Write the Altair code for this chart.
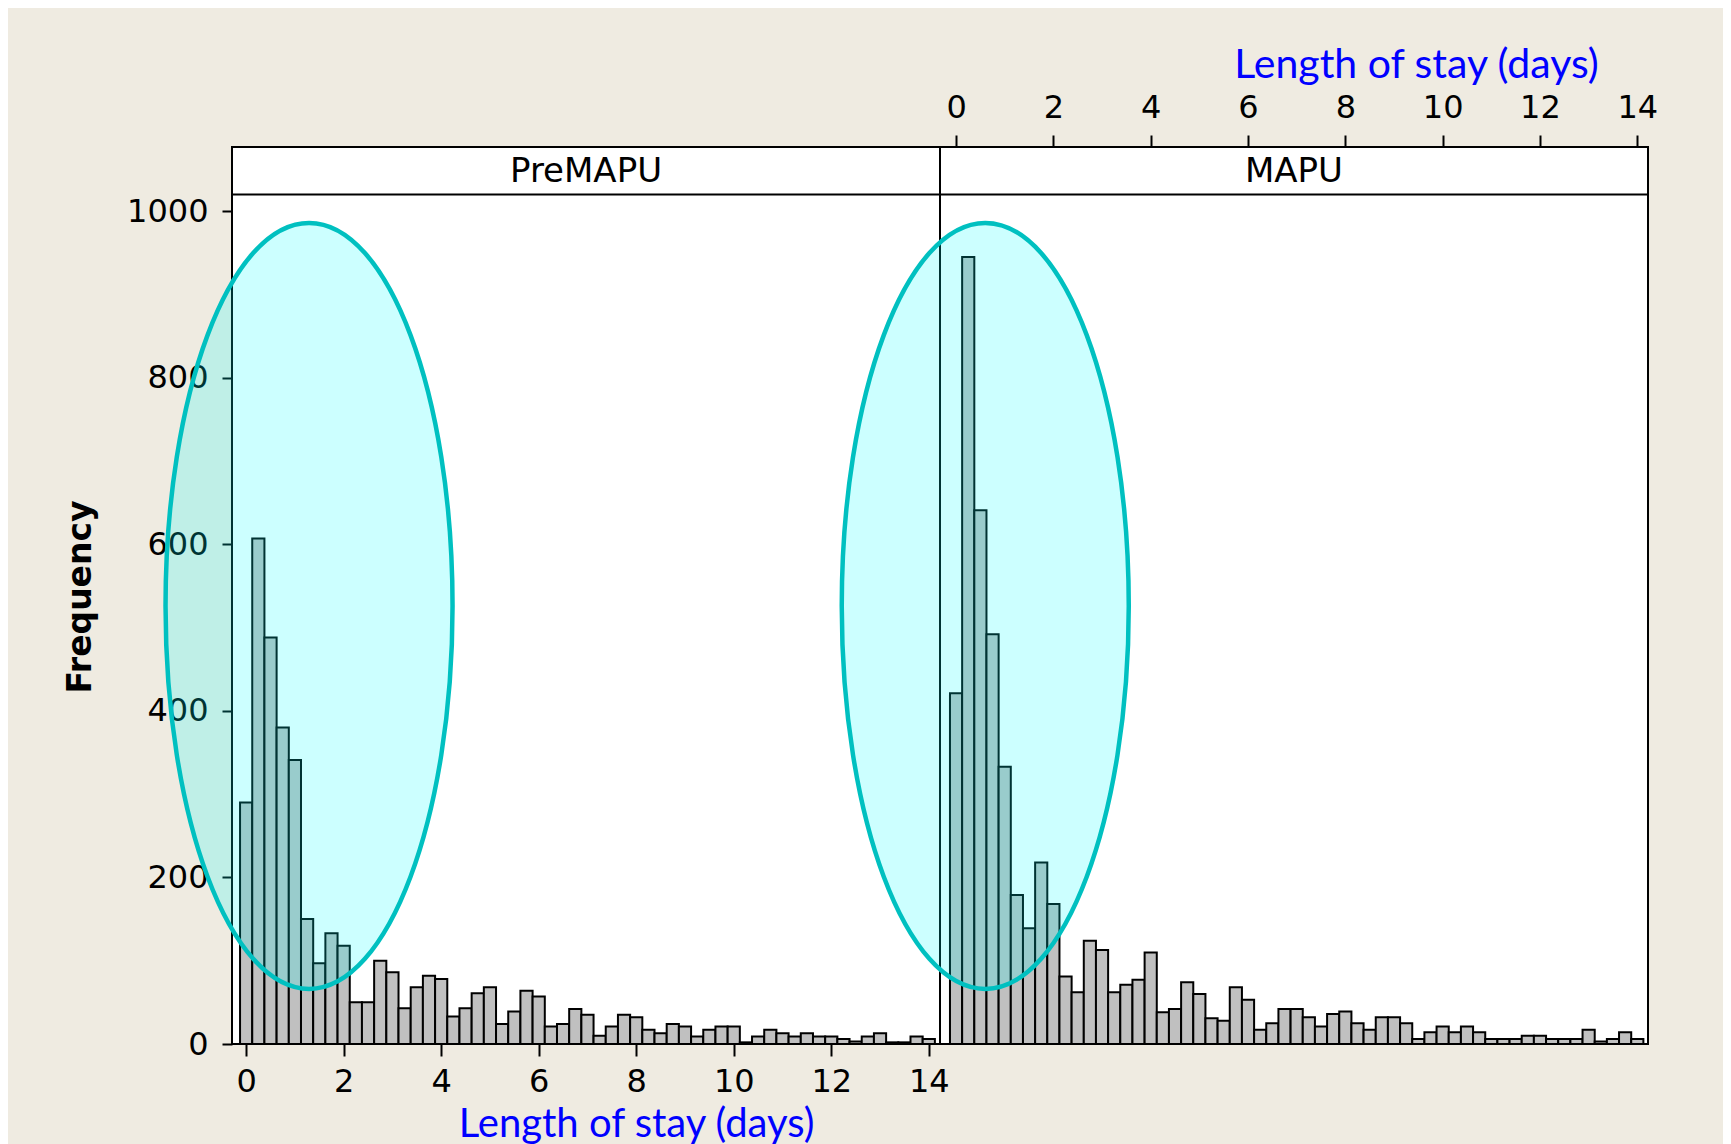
import altair as alt
import pandas as pd

# ---------------- data ----------------
bin_width = 0.25
bin_mid = [i * bin_width for i in range(57)]          # histogram bin midpoints (days)

premapu_counts = [290, 607, 488, 380, 341, 150, 97, 133, 118, 50,
                  50, 100, 86, 43, 68, 82, 78, 33, 43, 61,
                  68, 24, 39, 64, 57, 21, 24, 42, 35, 10,
                  21, 35, 32, 17, 13, 24, 21, 9, 17, 21,
                  21, 2, 9, 17, 13, 9, 13, 9, 9, 6,
                  3, 9, 13, 2, 2, 9, 6]

mapu_counts = [421, 945, 641, 492, 333, 179, 139, 218, 168, 81,
               62, 124, 113, 62, 71, 77, 110, 38, 42, 74,
               60, 31, 28, 68, 53, 17, 25, 42, 42, 32,
               21, 36, 39, 25, 17, 32, 32, 25, 6, 14,
               21, 14, 21, 14, 6, 6, 6, 10, 10, 6,
               6, 6, 17, 3, 6, 14, 6]

panel_names = ["PreMAPU", "MAPU"]
x_ticks = [0, 2, 4, 6, 8, 10, 12, 14]
y_ticks = [0, 200, 400, 600, 800, 1000]
x_title = "Length of stay (days)"
y_title = "Frequency"

# highlight ellipse centres (days, frequency)
pre_highlight = {"x": [1.29], "y": [526]}
mapu_highlight = {"x": [0.60], "y": [526]}

# ---------------- styling ----------------
W, H = 708, 897
STRIP_H = 47.5
Y_DOMAIN = [0, 1077]
BG = "#efebe1"
BLUE = "#0000ff"
ELL_RY = 383.0
ELL_RX = 143.5
rx_unit = ELL_RX / ELL_RY
ELLIPSE_PATH = (f"M {-rx_unit:.4f} 0 A {rx_unit:.4f} 1 0 1 1 {rx_unit:.4f} 0 "
                f"A {rx_unit:.4f} 1 0 1 1 {-rx_unit:.4f} 0 Z")
ELL_SIZE = (2 * ELL_RY) ** 2


def bars_frame(counts):
    return pd.DataFrame({
        "lo": [m - bin_width / 2 for m in bin_mid],
        "hi": [m + bin_width / 2 for m in bin_mid],
        "count": counts,
    })


def panel(name, counts, highlight, x_domain, x_axis, y_axis):
    xs = alt.Scale(domain=x_domain, nice=False, zero=False)
    ys = alt.Scale(domain=Y_DOMAIN, nice=False, zero=True)

    bars = alt.Chart(bars_frame(counts)).mark_rect(
        fill="#c0c0c0", stroke="black", strokeWidth=2
    ).encode(
        x=alt.X("lo:Q", scale=xs, axis=x_axis),
        x2="hi:Q",
        y=alt.Y("count:Q", scale=ys, axis=y_axis),
        y2=alt.datum(0),
    )

    strip = alt.Chart(pd.DataFrame({"label": [name]})).mark_rect(
        fill="white", stroke="black", strokeWidth=2
    ).encode(
        x=alt.value(0), x2=alt.value("width"),
        y=alt.value(0), y2=alt.value(STRIP_H),
    )

    strip_text = alt.Chart(pd.DataFrame({"label": [name]})).mark_text(
        font="DejaVu Sans", fontSize=34, color="black",
        align="center", baseline="middle"
    ).encode(
        x=alt.value(W / 2), y=alt.value(STRIP_H / 2 + 1), text="label:N"
    )

    ellipse = alt.Chart(pd.DataFrame(highlight)).mark_point(
        shape=ELLIPSE_PATH, size=ELL_SIZE, filled=True,
        fill="#00ffff", fillOpacity=0.2,
        stroke="#00c0c0", strokeWidth=4.5, strokeOpacity=1, opacity=1
    ).encode(
        x=alt.X("x:Q", scale=xs),
        y=alt.Y("y:Q", scale=ys),
    )

    return alt.layer(bars, strip, strip_text, ellipse).properties(width=W, height=H)


left_x_axis = alt.Axis(
    values=x_ticks, orient="bottom", title=x_title, domain=False, grid=False,
    tickSize=12, labelPadding=10,
    titleFont="Lato", titleFontSize=40, titleFontWeight="normal", titleColor=BLUE,
    titleX=404, titleY=80, titleAlign="center", titleBaseline="middle",
)
left_y_axis = alt.Axis(
    values=y_ticks, orient="left", title=y_title, domain=False, grid=False,
    tickSize=10, labelPadding=14, format="d",
    titleFont="DejaVu Sans", titleFontSize=33, titleFontWeight="bold", titleColor="black",
    titleX=-152, titleY=H / 2 + 1, titleAngle=270, titleAlign="center", titleBaseline="middle",
)
right_x_axis = alt.Axis(
    values=x_ticks, orient="top", title=x_title, domain=False, grid=False,
    tickSize=12, labelPadding=11,
    titleFont="Lato", titleFontSize=41, titleFontWeight="normal", titleColor=BLUE,
    titleX=476, titleY=-82, titleAlign="center", titleBaseline="middle",
)

left = panel(panel_names[0], premapu_counts, pre_highlight, [-0.29, 14.23],
             left_x_axis, left_y_axis)
right = panel(panel_names[1], mapu_counts, mapu_highlight, [-0.33, 14.22],
              right_x_axis, None)

chart = alt.hconcat(left, right, spacing=0, bounds="flush").resolve_scale(
    x="independent", y="independent"
).properties(
    background=BG,
    padding={"left": 55, "top": 35, "right": 64, "bottom": 0},
).configure_view(
    stroke="black", strokeWidth=2, fill="white"
).configure_axis(
    labelFont="DejaVu Sans", labelFontSize=32, labelColor="black",
    tickColor="black", tickWidth=2, labelFontWeight="normal",
)

chart.save("out.html", embed_options={"renderer": "svg", "actions": False})
